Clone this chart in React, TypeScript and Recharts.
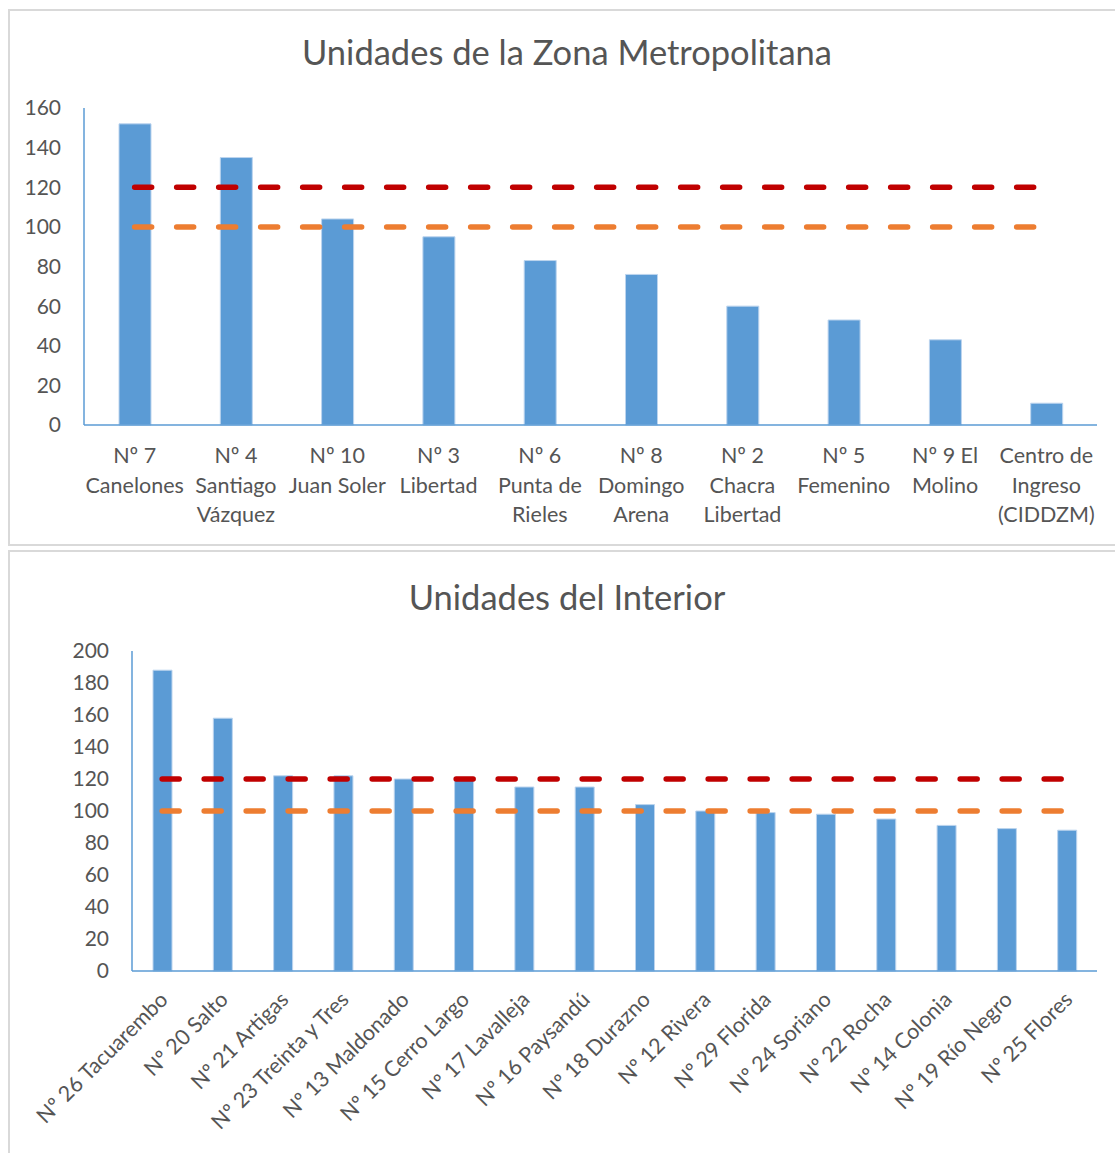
import React from "react";
import { BarChart, Bar, XAxis, YAxis, ReferenceLine } from "recharts";

// Zona Metropolitana
const metroUnits = [
  "Nº 7\nCanelones",
  "Nº 4\nSantiago\nVázquez",
  "Nº 10\nJuan Soler",
  "Nº 3\nLibertad",
  "Nº 6\nPunta de\nRieles",
  "Nº 8\nDomingo\nArena",
  "Nº 2\nChacra\nLibertad",
  "Nº 5\nFemenino",
  "Nº 9 El\nMolino",
  "Centro de\nIngreso\n(CIDDZM)",
];
const metroValues = [152, 135, 104, 95, 83, 76, 60, 53, 43, 11];
const metroTicks = [0, 20, 40, 60, 80, 100, 120, 140, 160];

// Interior
const interiorUnits = [
  "Nº 26 Tacuarembo",
  "Nº 20 Salto",
  "Nº 21 Artigas",
  "Nº 23 Treinta y Tres",
  "Nº 13 Maldonado",
  "Nº 15 Cerro Largo",
  "Nº 17 Lavalleja",
  "Nº 16 Paysandú",
  "Nº 18 Durazno",
  "Nº 12 Rivera",
  "Nº 29 Florida",
  "Nº 24 Soriano",
  "Nº 22 Rocha",
  "Nº 14 Colonia",
  "Nº 19 Río Negro",
  "Nº 25 Flores",
];
const interiorValues = [188, 158, 122, 122, 120, 121, 115, 115, 104, 100, 99, 98, 95, 91, 89, 88];
const interiorTicks = [0, 20, 40, 60, 80, 100, 120, 140, 160, 180, 200];

// umbrales
const upperLimit = 120;
const lowerLimit = 100;

const FONT = "Lato, 'Open Sans', sans-serif";
const TEXT = "#555555";
const BLUE = "#5B9BD5";

const metroData = metroUnits.map((name, i) => ({ name, value: metroValues[i] }));
const interiorData = interiorUnits.map((name, i) => ({ name, value: interiorValues[i] }));

const MetroTick = (props: any) => {
  const { x, y, payload } = props;
  const lines = String(payload.value).split("\n");
  return (
    <text x={x} y={y} textAnchor="middle" fill={TEXT} fontSize={21.5} fontFamily={FONT}>
      {lines.map((l, i) => (
        <tspan key={i} x={x} dy={i === 0 ? 38 : 29.5}>
          {l}
        </tspan>
      ))}
    </text>
  );
};

const InteriorTick = (props: any) => {
  const { x, y, payload } = props;
  const ax = x + 7;
  const ay = y + 30;
  return (
    <text
      x={ax}
      y={ay}
      transform={`rotate(-45, ${ax}, ${ay})`}
      textAnchor="end"
      fill={TEXT}
      fontSize={21.5}
      fontFamily={FONT}
    >
      {payload.value}
    </text>
  );
};

const dashProps = {
  strokeWidth: 5.5,
  strokeDasharray: "17 25",
  strokeLinecap: "round" as const,
};

const boxStyle: React.CSSProperties = {
  position: "absolute",
  left: 8,
  width: 1110,
  border: "2px solid #d9d9d9",
  boxSizing: "border-box",
};

const titleStyle: React.CSSProperties = {
  position: "absolute",
  left: 0,
  width: 1134,
  textAlign: "center",
  fontFamily: FONT,
  fontSize: 34.5,
  color: TEXT,
  lineHeight: "40px",
};

export default function App() {
  return (
    <div
      style={{
        position: "fixed",
        left: 0,
        top: 0,
        width: 1115,
        height: 1153,
        overflow: "hidden",
        background: "#fff",
      }}
    >
      <div style={{ ...boxStyle, top: 9, height: 537 }} />
      <div style={{ ...boxStyle, top: 550, height: 620 }} />

      <div style={{ ...titleStyle, top: 32 }}>Unidades de la Zona Metropolitana</div>
      <div style={{ ...titleStyle, top: 577 }}>Unidades del Interior</div>

      <div style={{ position: "absolute", left: 0, top: 0 }}>
        <BarChart
          width={1115}
          height={545}
          data={metroData}
          margin={{ top: 108, right: 18, bottom: 0, left: 0 }}
        >
          <XAxis
            dataKey="name"
            interval={0}
            height={120}
            tickSize={0}
            tickMargin={0}
            tickLine={false}
            axisLine={{ stroke: BLUE, strokeWidth: 1.5 }}
            tick={<MetroTick />}
          />
          <YAxis
            width={84}
            domain={[0, 160]}
            ticks={metroTicks}
            tickSize={0}
            tickMargin={23}
            tickLine={false}
            axisLine={{ stroke: BLUE, strokeWidth: 1.5 }}
            tick={{ fill: TEXT, fontSize: 21, fontFamily: FONT }}
          />
          <Bar dataKey="value" fill={BLUE} stroke="#bcd4ee" strokeWidth={1} barSize={32} isAnimationActive={false} />
          <ReferenceLine
            segment={[
              { x: metroUnits[0], y: upperLimit },
              { x: metroUnits[metroUnits.length - 1], y: upperLimit },
            ]}
            stroke="#C00000"
            {...dashProps}
          />
          <ReferenceLine
            segment={[
              { x: metroUnits[0], y: lowerLimit },
              { x: metroUnits[metroUnits.length - 1], y: lowerLimit },
            ]}
            stroke="#ED7D31"
            {...dashProps}
          />
        </BarChart>
      </div>

      <div style={{ position: "absolute", left: 0, top: 546 }}>
        <BarChart
          width={1115}
          height={607}
          data={interiorData}
          margin={{ top: 105, right: 18, bottom: 0, left: 0 }}
        >
          <XAxis
            dataKey="name"
            interval={0}
            height={182}
            tickSize={0}
            tickMargin={0}
            tickLine={false}
            axisLine={{ stroke: BLUE, strokeWidth: 1.5 }}
            tick={<InteriorTick />}
          />
          <YAxis
            width={132}
            domain={[0, 200]}
            ticks={interiorTicks}
            tickSize={0}
            tickMargin={23}
            tickLine={false}
            axisLine={{ stroke: BLUE, strokeWidth: 1.5 }}
            tick={{ fill: TEXT, fontSize: 21, fontFamily: FONT }}
          />
          <Bar dataKey="value" fill={BLUE} stroke="#bcd4ee" strokeWidth={1} barSize={19} isAnimationActive={false} />
          <ReferenceLine
            segment={[
              { x: interiorUnits[0], y: upperLimit },
              { x: interiorUnits[interiorUnits.length - 1], y: upperLimit },
            ]}
            stroke="#C00000"
            {...dashProps}
          />
          <ReferenceLine
            segment={[
              { x: interiorUnits[0], y: lowerLimit },
              { x: interiorUnits[interiorUnits.length - 1], y: lowerLimit },
            ]}
            stroke="#ED7D31"
            {...dashProps}
          />
        </BarChart>
      </div>
    </div>
  );
}
